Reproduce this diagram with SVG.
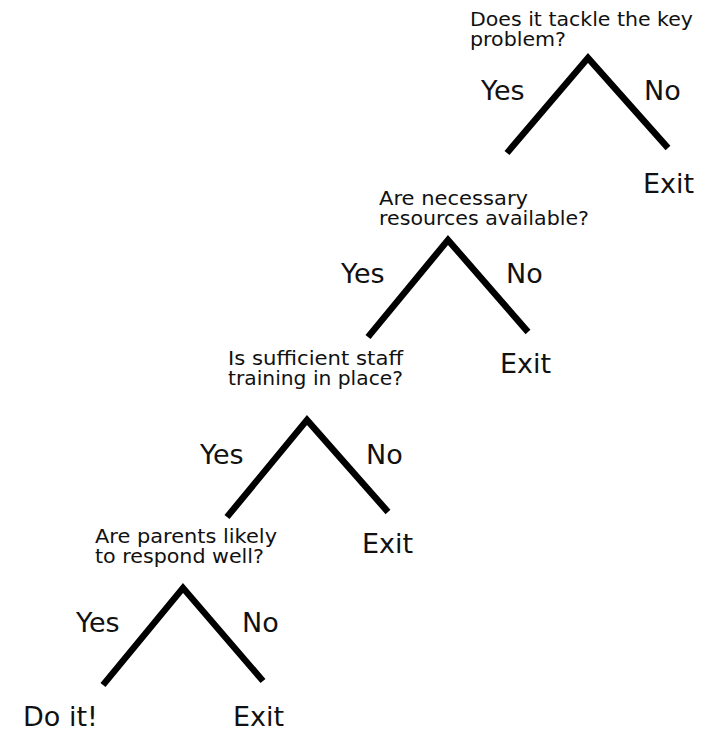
<svg xmlns="http://www.w3.org/2000/svg" width="710" height="729" viewBox="0 0 710 729">
<style>
.q{font-family:"DejaVu Sans","Liberation Sans",sans-serif;font-size:20px;fill:#111}
.l{font-family:"DejaVu Sans","Liberation Sans",sans-serif;font-size:27px;fill:#111}
.br{fill:none;stroke:#000;stroke-width:6.5;stroke-linejoin:miter;stroke-linecap:butt}
</style>
<rect width="710" height="729" fill="#fff"/>
<g id="connectors">
<path class="br" d="M507,153 L588,58 L668,148"/>
<path class="br" d="M368,337 L448,240 L528,332"/>
<path class="br" d="M227,517 L307,420 L388,512"/>
<path class="br" d="M103,685 L183,588 L263,681"/>
<text class="l" x="481" y="100">Yes</text>
<text class="l" x="644" y="100">No</text>
<text class="l" x="341" y="283">Yes</text>
<text class="l" x="506" y="283">No</text>
<text class="l" x="200" y="464">Yes</text>
<text class="l" x="366" y="464">No</text>
<text class="l" x="76" y="632">Yes</text>
<text class="l" x="242" y="632">No</text>
</g>
<g id="q1"><text class="q"><tspan x="470" y="26" textLength="223" lengthAdjust="spacingAndGlyphs">Does it tackle the key</tspan><tspan x="470" y="46" textLength="96" lengthAdjust="spacingAndGlyphs">problem?</tspan></text></g>
<g id="exit1"><text class="l" x="643" y="193">Exit</text></g>
<g id="q2"><text class="q"><tspan x="379" y="205" textLength="149" lengthAdjust="spacingAndGlyphs">Are necessary</tspan><tspan x="379" y="225" textLength="210" lengthAdjust="spacingAndGlyphs">resources available?</tspan></text></g>
<g id="exit2"><text class="l" x="500" y="373">Exit</text></g>
<g id="q3"><text class="q"><tspan x="228" y="365" textLength="175" lengthAdjust="spacingAndGlyphs">Is sufficient staff</tspan><tspan x="228" y="385" textLength="175" lengthAdjust="spacingAndGlyphs">training in place?</tspan></text></g>
<g id="exit3"><text class="l" x="362" y="553">Exit</text></g>
<g id="q4"><text class="q"><tspan x="95" y="543" textLength="182" lengthAdjust="spacingAndGlyphs">Are parents likely</tspan><tspan x="95" y="563" textLength="169" lengthAdjust="spacingAndGlyphs">to respond well?</tspan></text></g>
<g id="doit"><text class="l" x="23" y="726">Do it!</text></g>
<g id="exit4"><text class="l" x="233" y="726">Exit</text></g>
</svg>
